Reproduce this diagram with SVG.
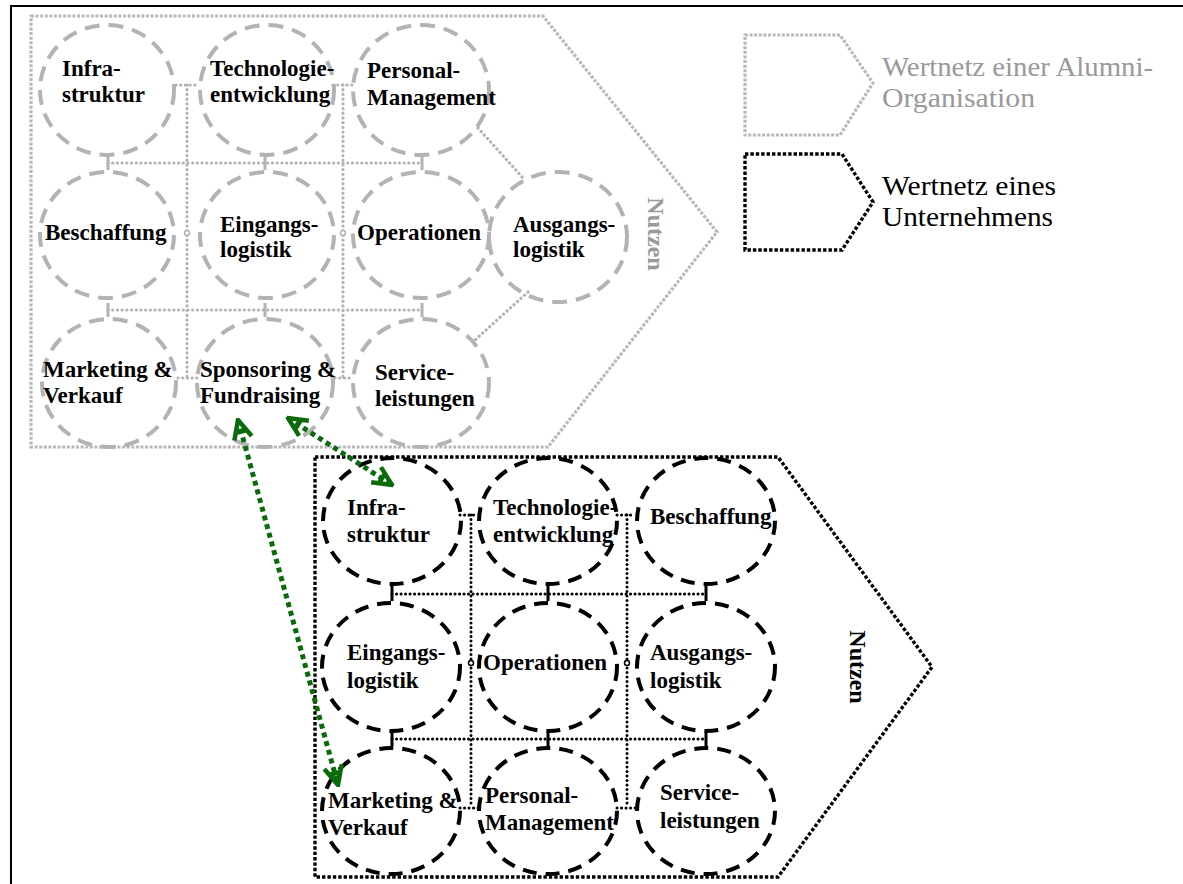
<svg xmlns="http://www.w3.org/2000/svg" width="1183" height="884" viewBox="0 0 1183 884">
<style>
.gc{fill:none;stroke:#b3b3b3;stroke-width:4;stroke-dasharray:15 9}
.bc{fill:none;stroke:#000;stroke-width:4;stroke-dasharray:14 9}
.t{font-family:"Liberation Serif","Times New Roman",serif;font-weight:bold;font-size:23px;fill:#000}
.gl{fill:none;stroke:#b3b3b3;stroke-width:3.2;stroke-linecap:round;stroke-dasharray:0.1 4.6}
.bl{fill:none;stroke:#000;stroke-width:3;stroke-linecap:round;stroke-dasharray:0.1 4.4}
.gtick{stroke:#b3b3b3;stroke-width:3}
.btick{stroke:#000;stroke-width:3}
.gp{fill:none;stroke:#b8b8b8;stroke-width:3.2;stroke-dasharray:3 1.6}
.bp{fill:none;stroke:#000;stroke-width:3.4;stroke-dasharray:3.4 2}
.leg{font-family:"Liberation Serif","Times New Roman",serif;font-size:27px}
.arr{fill:none;stroke:#0b6b0b;stroke-width:5;stroke-dasharray:5 4}
.nut{font-family:"Liberation Serif","Times New Roman",serif;font-weight:bold;font-size:24px}
</style>
<defs>
<marker id="ah" viewBox="0 0 24 24" refX="22" refY="12" markerWidth="24" markerHeight="24" markerUnits="userSpaceOnUse" orient="auto-start-reverse">
<path d="M3,3 L22,12 L3,21 M10,7 L10,17" fill="none" stroke="#0b6b0b" stroke-width="4.5"/>
</marker>
</defs>
<rect x="11" y="6" width="1190" height="900" fill="#fff" stroke="#000" stroke-width="2"/>

<!-- gray value net -->
<g id="alumni-net">
<polygon class="gp" points="31,16 543,16 717,232 548,447 31,447"/>
<text class="nut" fill="#999" transform="translate(648,234) rotate(90)" text-anchor="middle">Nutzen</text>
</g>

<g id="gray-connectors">
<path class="gl" d="M108,163 H422 M108,310 H422 M187,85 V378 M343,85 V378 M176,85 H198 M333,85 H352 M178,378 H198 M335,378 H352 M478,128 L523,178 M528,292 L475,340"/>
<path class="gtick" d="M108,156 V170 M265,156 V170 M422,156 V170 M108,303 V317 M265,303 V317 M422,303 V317"/>
<circle cx="187" cy="233" r="2.5" fill="#fff" stroke="#b3b3b3" stroke-width="1.5"/>
<circle cx="343" cy="233" r="2.5" fill="#fff" stroke="#b3b3b3" stroke-width="1.5"/>
</g>

<g id="g-infra"><ellipse class="gc" cx="107" cy="90" rx="67" ry="65"/><text class="t" x="62" y="76">Infra-</text><text class="t" x="62" y="102">struktur</text></g>
<g id="g-tech"><ellipse class="gc" cx="267" cy="90" rx="67" ry="65"/><text class="t" x="210" y="76">Technologie-</text><text class="t" x="210" y="102">entwicklung</text></g>
<g id="g-personal"><ellipse class="gc" cx="421" cy="90" rx="68" ry="65"/><text class="t" x="367" y="78">Personal-</text><text class="t" x="367" y="105">Management</text></g>
<g id="g-beschaffung"><ellipse class="gc" cx="107" cy="235" rx="67" ry="63"/><text class="t" x="45" y="240">Beschaffung</text></g>
<g id="g-eingang"><ellipse class="gc" cx="267" cy="235" rx="67" ry="63"/><text class="t" x="220" y="232">Eingangs-</text><text class="t" x="220" y="257">logistik</text></g>
<g id="g-operationen"><ellipse class="gc" cx="421" cy="235" rx="68" ry="63"/><text class="t" x="357" y="240">Operationen</text></g>
<g id="g-ausgang"><ellipse class="gc" cx="558" cy="237" rx="69" ry="65"/><text class="t" x="513" y="232">Ausgangs-</text><text class="t" x="513" y="257">logistik</text></g>
<g id="g-marketing"><ellipse class="gc" cx="109" cy="383" rx="67" ry="64"/><text class="t" x="43" y="377">Marketing &amp;</text><text class="t" x="43" y="403">Verkauf</text></g>
<g id="g-sponsoring"><ellipse class="gc" cx="265" cy="383" rx="68" ry="64"/><text class="t" x="200" y="377">Sponsoring &amp;</text><text class="t" x="200" y="403">Fundraising</text></g>
<g id="g-service"><ellipse class="gc" cx="421" cy="383" rx="68" ry="64"/><text class="t" x="375" y="380">Service-</text><text class="t" x="375" y="406">leistungen</text></g>

<!-- black value net -->
<g id="company-net">
<polygon class="bp" points="315,457 778,457 932,667 778,877 315,877"/>
<text class="nut" fill="#000" transform="translate(850,667) rotate(90)" text-anchor="middle">Nutzen</text>
</g>

<g id="black-connectors">
<path class="bl" d="M392,594 H706 M392,739 H706 M471,515 V806 M627,515 V806 M460,515 H478 M617,515 H634 M460,808 H482 M617,808 H637"/>
<path class="btick" d="M392,586 V601 M548,586 V601 M706,586 V601 M392,732 V746 M548,732 V746 M706,732 V746"/>
<circle cx="471" cy="663" r="2.5" fill="#fff" stroke="#000" stroke-width="1.5"/>
<circle cx="627" cy="663" r="2.5" fill="#fff" stroke="#000" stroke-width="1.5"/>
</g>

<g id="b-infra"><ellipse class="bc" cx="392" cy="521" rx="69" ry="63"/><text class="t" x="347" y="515">Infra-</text><text class="t" x="347" y="542">struktur</text></g>
<g id="b-tech"><ellipse class="bc" cx="548" cy="521" rx="69" ry="63"/><text class="t" x="493" y="515">Technologie-</text><text class="t" x="493" y="542">entwicklung</text></g>
<g id="b-beschaffung"><ellipse class="bc" cx="706" cy="521" rx="69" ry="63"/><text class="t" x="650" y="524">Beschaffung</text></g>
<g id="b-eingang"><ellipse class="bc" cx="391" cy="667" rx="69" ry="64"/><text class="t" x="347" y="660">Eingangs-</text><text class="t" x="347" y="688">logistik</text></g>
<g id="b-operationen"><ellipse class="bc" cx="548" cy="667" rx="69" ry="64"/><text class="t" x="483" y="670">Operationen</text></g>
<g id="b-ausgang"><ellipse class="bc" cx="706" cy="667" rx="69" ry="64"/><text class="t" x="650" y="660">Ausgangs-</text><text class="t" x="650" y="688">logistik</text></g>
<g id="b-marketing"><ellipse class="bc" cx="391" cy="811" rx="69" ry="63"/><text class="t" x="328" y="808">Marketing &amp;</text><text class="t" x="328" y="835">Verkauf</text></g>
<g id="b-personal"><ellipse class="bc" cx="548" cy="811" rx="69" ry="63"/><text class="t" x="485" y="803">Personal-</text><text class="t" x="485" y="830">Management</text></g>
<g id="b-service"><ellipse class="bc" cx="706" cy="811" rx="69" ry="63"/><text class="t" x="660" y="800">Service-</text><text class="t" x="660" y="828">leistungen</text></g>

<!-- green links -->
<g id="links">
<line class="arr" x1="238" y1="420" x2="338" y2="785" marker-start="url(#ah)" marker-end="url(#ah)"/>
<line class="arr" x1="288" y1="418" x2="392" y2="485" marker-start="url(#ah)" marker-end="url(#ah)"/>
</g>

<!-- legend -->
<g id="legend-alumni">
<polygon class="gp" points="745,35 840,35 873,83 840,135 745,135"/>
<text class="leg" fill="#999" x="882" y="76" textLength="271" lengthAdjust="spacingAndGlyphs">Wertnetz einer Alumni-</text>
<text class="leg" fill="#999" x="882" y="107" textLength="153" lengthAdjust="spacingAndGlyphs">Organisation</text>
</g>
<g id="legend-company">
<polygon class="bp" points="745,154 842,154 873,202 842,250 745,250"/>
<text class="leg" fill="#000" x="882" y="195" textLength="174" lengthAdjust="spacingAndGlyphs">Wertnetz eines</text>
<text class="leg" fill="#000" x="882" y="226" textLength="171" lengthAdjust="spacingAndGlyphs">Unternehmens</text>
</g>
</svg>
